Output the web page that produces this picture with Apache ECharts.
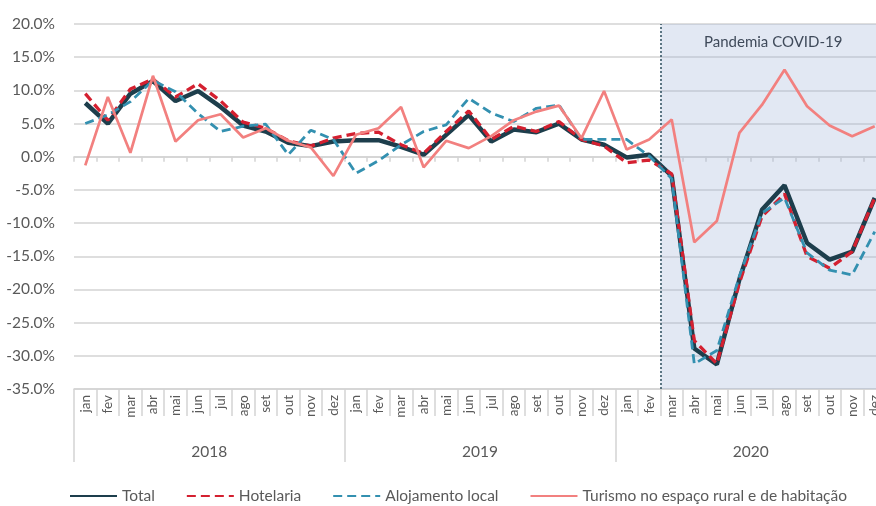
<!DOCTYPE html>
<html>
<head>
<meta charset="UTF-8">
<title>Turismo - taxa de variação homóloga</title>
<style>
  html, body { margin: 0; padding: 0; background: #fff; }
  #chart { width: 876px; height: 506px; }
</style>
<script src="https://cdn.jsdelivr.net/npm/echarts@6/dist/echarts.min.js"></script>
</head>
<body>
<div id="chart"></div>
<script>
var years = ['2018', '2019', '2020'];
var months = ['jan', 'fev', 'mar', 'abr', 'mai', 'jun', 'jul', 'ago', 'set', 'out', 'nov', 'dez'];

// valores em %, jan 2018 .. dez 2020
var total = [
  8.1, 5.0, 9.5, 11.4, 8.4, 9.9, 7.5, 4.7, 3.8, 2.1, 1.6, 2.3,
  2.5, 2.5, 1.5, 0.3, 3.3, 6.3, 2.3, 4.1, 3.7, 5.0, 2.6, 1.8,
  -0.1, 0.3, -2.9, -28.9, -31.3, -18.5, -8.0, -4.3, -13.0, -15.5, -14.3, -6.2
];
var hotelaria = [
  9.5, 5.5, 10.2, 11.7, 9.0, 11.0, 8.4, 5.2, 4.3, 2.4, 1.6, 2.8,
  3.5, 3.7, 1.8, 0.5, 3.8, 6.9, 2.6, 4.6, 3.8, 5.3, 2.6, 1.6,
  -0.9, -0.5, -2.6, -27.7, -31.2, -19.0, -9.0, -5.6, -15.0, -16.8, -14.3, -6.2
];
var alojamentoLocal = [
  5.0, 6.3, 8.3, 11.5, 9.8, 6.5, 3.8, 4.6, 4.9, 0.3, 4.0, 2.6,
  -2.5, -0.6, 1.8, 3.8, 4.8, 8.8, 6.6, 5.3, 7.3, 7.8, 2.6, 2.6,
  2.6, 0.1, -3.3, -31.2, -29.2, -18.0, -8.5, -6.2, -14.5, -17.1, -17.8, -11.3
];
var turismoRural = [
  -1.3, 9.0, 0.6, 12.2, 2.3, 5.5, 6.4, 2.9, 4.3, 2.4, 1.4, -2.9,
  3.3, 4.3, 7.5, -1.6, 2.4, 1.3, 3.1, 5.5, 6.8, 7.7, 2.8, 9.9,
  1.1, 2.6, 5.6, -12.9, -9.7, 3.6, 7.8, 13.1, 7.6, 4.7, 3.1, 4.6
];

var yMin = -35, yMax = 20, yStep = 5;
var pandemicLabel = 'Pandemia COVID-19';
var pandemicStartKey = '2020|mar';

var categories = [];
years.forEach(function (y) {
  months.forEach(function (m) { categories.push(y + '|' + m); });
});
var pandemicStart = categories.indexOf(pandemicStartKey);

var font = 'Lato, "Open Sans", sans-serif';
var txtColor = '#595959';
var gridGray = '#d3d3d3';

var myChart = echarts.init(document.getElementById('chart'));

function lineSeries(name, data, color, width, dash, z) {
  return {
    name: name,
    type: 'line',
    data: data,
    symbol: 'none',
    z: z,
    lineStyle: { color: color, width: width, type: dash },
    itemStyle: { color: color }
  };
}

var option = {
  backgroundColor: '#fff',
  animation: false,
  textStyle: { fontFamily: font },
  grid: { left: 74, top: 24, width: 812, height: 365, outerBoundsMode: 'none', containLabel: false },
  legend: {
    data: ['Total', 'Hotelaria', 'Alojamento local', 'Turismo no espaço rural e de habitação'],
    left: 64,
    bottom: -3,
    itemWidth: 47,
    itemHeight: 10,
    itemGap: 31,
    itemStyle: { opacity: 0 },
    textStyle: { color: txtColor, fontSize: 15.5, fontFamily: font }
  },
  xAxis: [
    {
      // meses
      type: 'category',
      data: categories,
      position: 'bottom',
      axisLine: { onZero: false, lineStyle: { color: gridGray, width: 1.5 } },
      axisTick: { show: true, interval: 0, length: 27, lineStyle: { color: gridGray, width: 1.5 } },
      axisLabel: {
        interval: 0, rotate: 90, margin: 6,
        color: txtColor, fontSize: 13.5, fontFamily: font,
        formatter: function (v) { return v.split('|')[1]; }
      },
      splitLine: { show: false }
    },
    {
      // anos
      type: 'category',
      data: years,
      position: 'bottom',
      axisLine: { onZero: false, show: false },
      axisTick: { show: true, interval: 0, length: 73, lineStyle: { color: gridGray, width: 1.5 } },
      axisLabel: { interval: 0, margin: 55, color: txtColor, fontSize: 15.5, fontFamily: font },
      splitLine: { show: false }
    },
    {
      // eixo no zero com marcas
      type: 'category',
      data: categories,
      position: 'bottom',
      axisLine: { onZero: true, onZeroAxisIndex: 0, lineStyle: { color: gridGray, width: 1.5 } },
      axisTick: { show: true, interval: 0, length: 5, lineStyle: { color: gridGray, width: 1.5 } },
      axisLabel: { show: false },
      splitLine: { show: false }
    },
    {
      // eixo auxiliar para a zona da pandemia
      type: 'value',
      min: 0,
      max: categories.length,
      show: false
    }
  ],
  yAxis: {
    type: 'value',
    min: yMin,
    max: yMax,
    interval: yStep,
    axisLine: { show: false },
    axisTick: { show: false },
    axisLabel: {
      margin: 19,
      color: txtColor,
      fontSize: 15.5,
      fontFamily: font,
      formatter: function (v) { return v.toFixed(1) + '%'; }
    },
    splitLine: { lineStyle: { color: gridGray, width: 1.5 } }
  },
  series: [
    {
      name: '',
      type: 'line',
      xAxisIndex: 3,
      data: [],
      z: 1,
      markArea: {
        silent: true,
        itemStyle: { color: 'rgba(160,180,215,0.3)' },
        label: {
          show: true,
          position: 'insideTop',
          distance: 11,
          color: '#3f4a5a',
          fontSize: 15,
          fontFamily: font
        },
        data: [[
          { name: pandemicLabel, xAxis: pandemicStart, yAxis: yMax },
          { xAxis: categories.length, yAxis: yMin }
        ]]
      },
      markLine: {
        silent: true,
        symbol: 'none',
        label: { show: false },
        lineStyle: { color: '#2e4f5e', width: 1.5, type: [2, 2] },
        data: [{ xAxis: pandemicStart }]
      }
    },
    lineSeries('Total', total, '#1d3e4c', 4.5, 'solid', 3),
    lineSeries('Hotelaria', hotelaria, '#d42030', 3.3, [9, 5], 4),
    lineSeries('Alojamento local', alojamentoLocal, '#3390b0', 2.8, [9, 5], 5),
    lineSeries('Turismo no espaço rural e de habitação', turismoRural, '#f2807f', 2.7, 'solid', 6)
  ]
};

myChart.setOption(option);
</script>
</body>
</html>
